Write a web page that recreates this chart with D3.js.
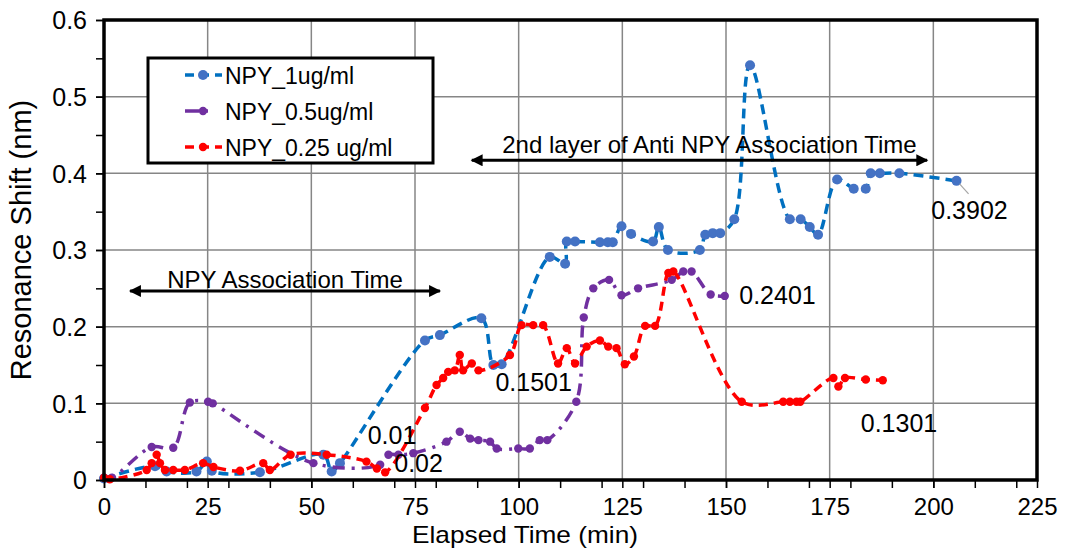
<!DOCTYPE html>
<html>
<head>
<meta charset="utf-8">
<script src="https://cdn.jsdelivr.net/npm/d3@7"></script>
<style>
  body { margin: 0; background: #fff; }
  text { font-family: "Liberation Sans", Arial, sans-serif; fill: #000; }
</style>
</head>
<body>
<svg id="chart" width="1065" height="548"></svg>
<script>
// ---- Data: elapsed time (min) and resonance shift (nm) for each concentration ----
const seriesNames = ["NPY_1ug/ml", "NPY_0.5ug/ml", "NPY_0.25 ug/ml"];

const blueTime = [0, 12.3, 15.1, 22.3, 24.8, 26.0, 37.6, 52.9, 54.9, 56.9, 77.4, 81.0, 91.0, 93.9, 95.9,
  107.5, 111.2, 111.6, 113.6, 119.6, 121.5, 122.7, 124.8, 127.1, 132.4, 133.8, 136.0, 143.7, 145.0,
  146.8, 148.6, 152.0, 155.8, 165.4, 168.0, 170.2, 172.2, 176.8, 180.8, 183.7, 184.9, 187.1, 191.8, 205.6];
const blueShift = [0.002, 0.018, 0.011, 0.011, 0.024, 0.012, 0.010, 0.033, 0.011, 0.022, 0.182, 0.189, 0.211, 0.1501, 0.151,
  0.291, 0.282, 0.311, 0.311, 0.310, 0.310, 0.310, 0.331, 0.321, 0.311, 0.330, 0.300, 0.300, 0.320,
  0.322, 0.322, 0.340, 0.541, 0.340, 0.340, 0.330, 0.320, 0.392, 0.380, 0.380, 0.400, 0.400, 0.400, 0.3902];

const purpleTime = [0, 1.9, 11.5, 16.7, 20.7, 25.1, 26.2, 50.5, 66.6, 68.6, 71.0, 74.6, 82.6, 85.8, 88.3,
  90.3, 93.1, 94.7, 99.9, 102.7, 105.1, 106.9, 113.9, 115.7, 118.0, 121.8, 124.8, 128.8, 136.9, 139.7,
  141.7, 146.3, 149.7];
const purpleShift = [0.003, 0.003, 0.043, 0.042, 0.101, 0.102, 0.100, 0.022, 0.02, 0.033, 0.033, 0.035, 0.050, 0.063, 0.054,
  0.052, 0.050, 0.041, 0.041, 0.041, 0.052, 0.052, 0.102, 0.212, 0.250, 0.261, 0.241, 0.250, 0.261, 0.272,
  0.272, 0.242, 0.2401];

const redTime = [0, 1.4, 10.3, 11.5, 12.7, 13.5, 14.7, 16.7, 19.5, 23.9, 26.4, 32.8, 38.4, 40.0, 45.0,
  53.7, 63.3, 65.8, 67.8, 77.4, 80.2, 81.8, 83.0, 84.6, 85.8, 86.6, 88.7, 90.3, 97.9, 100.7,
  103.5, 105.9, 109.5, 111.6, 113.6, 116.4, 119.6, 121.6, 123.6, 125.6, 127.8, 130.5, 132.9, 136.1, 137.3,
  153.8, 163.8, 165.4, 167.0, 167.9, 175.9, 177.1, 178.7, 183.7, 187.8];
const redShift = [0.003, 0.001, 0.013, 0.022, 0.033, 0.022, 0.013, 0.013, 0.013, 0.022, 0.017, 0.012, 0.022, 0.013, 0.033,
  0.033, 0.024, 0.015, 0.01, 0.094, 0.124, 0.133, 0.141, 0.143, 0.163, 0.143, 0.152, 0.143, 0.163, 0.202,
  0.202, 0.202, 0.152, 0.172, 0.152, 0.174, 0.182, 0.174, 0.172, 0.151, 0.161, 0.201, 0.201, 0.270, 0.272,
  0.102, 0.102, 0.102, 0.102, 0.102, 0.133, 0.122, 0.133, 0.131, 0.1301];

// Value labels: [time, shift] anchor points the text refers to
const labelText = ["0.3902", "0.2401", "0.1501", "0.1301", "0.01", "0.02"];
const labelTime = [199.5, 153.2, 94.4, 182.5, 63.6, 70.0];
const labelShift = [0.340, 0.229, 0.116, 0.063, 0.047, 0.010];

const xTicks = [0, 25, 50, 75, 100, 125, 150, 175, 200, 225];
const yTicks = [0, 0.1, 0.2, 0.3, 0.4, 0.5, 0.6];

// Time-window annotations (double arrows)
const spanText = ["NPY Association Time", "2nd layer of Anti NPY Association Time"];
const spanStart = [6.3, 88.7];
const spanEnd = [81.0, 198.5];
const spanLevel = [0.2465, 0.417];
const spanTextLevel = [0.261, 0.437];

// ---- Layout ----
const svg = d3.select("#chart");
const x = d3.scaleLinear().domain([0, 225]).range([104, 1037]);
const y = d3.scaleLinear().domain([0, 0.6]).range([480, 20]);

const styles = [
  { line: "#0070C0", marker: "#4472C4", dash: "10,6", r: 5 },
  { line: "#7030A0", marker: "#7030A0", dash: "12,7,3,7", r: 4.2 },
  { line: "#FF0000", marker: "#FF0000", dash: "9,6", r: 4.2 }
];
const series = [
  blueTime.map((t, i) => [t, blueShift[i]]),
  purpleTime.map((t, i) => [t, purpleShift[i]]),
  redTime.map((t, i) => [t, redShift[i]])
];

// Gridlines
const grid = svg.append("g").attr("stroke", "#868686").attr("stroke-width", 1.5);
grid.selectAll("line.v").data(xTicks.slice(1, -1)).enter().append("line")
  .attr("x1", d => x(d)).attr("x2", d => x(d)).attr("y1", y(0)).attr("y2", y(0.6));
grid.selectAll("line.h").data(yTicks.slice(1, -1)).enter().append("line")
  .attr("y1", d => y(d)).attr("y2", d => y(d)).attr("x1", x(0)).attr("x2", x(225));

// Series lines
const line = d3.line().x(d => x(d[0])).y(d => y(d[1])).curve(d3.curveCatmullRom.alpha(0.5));
series.forEach((s, i) => {
  const st = styles[i];
  const g = svg.append("g");
  g.append("path").datum(s).attr("d", line).attr("fill", "none")
    .attr("stroke", st.line).attr("stroke-width", 3.5).attr("stroke-dasharray", st.dash);
  g.selectAll("circle").data(s).enter().append("circle")
    .attr("cx", d => x(d[0])).attr("cy", d => y(d[1])).attr("r", st.r).attr("fill", st.marker);
});

// Axes
const xAxis = d3.axisBottom(x).tickValues(d3.range(0, 226, 10)).tickSize(8).tickFormat("");
svg.append("g").attr("transform", `translate(0,${y(0)})`).call(xAxis)
  .call(g => g.selectAll(".tick line").attr("stroke", "#000").attr("stroke-width", 1.5))
  .call(g => g.select(".domain").remove());
const xAxisMajor = d3.axisBottom(x).tickValues(xTicks).tickSize(8).tickFormat(d => d);
svg.append("g").attr("transform", `translate(0,${y(0)})`).call(xAxisMajor)
  .call(g => g.selectAll(".tick line").attr("stroke", "#000").attr("stroke-width", 1.5))
  .call(g => g.selectAll(".tick text").attr("font-size", 24).attr("dy", 0).attr("y", 35)
    .attr("font-family", "'Liberation Sans', Arial, sans-serif"))
  .call(g => g.select(".domain").remove());

const yAxis = d3.axisLeft(y).tickValues(d3.range(0, 0.601, 0.05)).tickSize(8).tickFormat("");
svg.append("g").attr("transform", `translate(${x(0)},0)`).call(yAxis)
  .call(g => g.selectAll(".tick line").attr("stroke", "#000").attr("stroke-width", 1.5))
  .call(g => g.select(".domain").remove());
const yAxisMajor = d3.axisLeft(y).tickValues(yTicks).tickSize(8).tickFormat(d => d3.format("~g")(d));
svg.append("g").attr("transform", `translate(${x(0)},0)`).call(yAxisMajor)
  .call(g => g.selectAll(".tick line").attr("stroke", "#000").attr("stroke-width", 1.5))
  .call(g => g.selectAll(".tick text").attr("font-size", 25).attr("x", -17).attr("dy", "0.35em")
    .attr("font-family", "'Liberation Sans', Arial, sans-serif"))
  .call(g => g.select(".domain").remove());

// Plot frame
svg.append("rect").attr("x", x(0)).attr("y", y(0.6)).attr("width", x(225) - x(0)).attr("height", y(0) - y(0.6))
  .attr("fill", "none").attr("stroke", "#000").attr("stroke-width", 3.5);

// Axis titles
svg.append("text").attr("x", 525).attr("y", 542.5).attr("text-anchor", "middle")
  .attr("font-size", 24).attr("textLength", 226).attr("lengthAdjust", "spacingAndGlyphs")
  .text("Elapsed Time (min)");
svg.append("text").attr("transform", "translate(31,240) rotate(-90)").attr("text-anchor", "middle")
  .attr("font-size", 29).text("Resonance Shift (nm)");

// Double-headed arrows marking the association windows
const defs = svg.append("defs");
defs.append("marker").attr("id", "head").attr("viewBox", "0 0 10 10").attr("refX", 9).attr("refY", 5)
  .attr("markerWidth", 4.5).attr("markerHeight", 4).attr("orient", "auto-start-reverse")
  .attr("markerUnits", "strokeWidth")
  .append("path").attr("d", "M0,0 L10,5 L0,10 Z").attr("fill", "#000");
spanText.forEach((t, i) => {
  svg.append("line").attr("x1", x(spanStart[i])).attr("x2", x(spanEnd[i]))
    .attr("y1", y(spanLevel[i])).attr("y2", y(spanLevel[i]))
    .attr("stroke", "#000").attr("stroke-width", 3)
    .attr("marker-start", "url(#head)").attr("marker-end", "url(#head)");
  svg.append("text").attr("x", (x(spanStart[i]) + x(spanEnd[i])) / 2 + (i === 1 ? 10 : 0))
    .attr("y", y(spanTextLevel[i]) + 8).attr("text-anchor", "middle").attr("font-size", 24).text(t);
});

// Value labels
svg.append("line").attr("x1", x(205.6) + 3).attr("y1", y(0.3902) + 3).attr("x2", x(208.5)).attr("y2", y(0.3902) + 13)
  .attr("stroke", "#a6a6a6").attr("stroke-width", 1.2);
labelText.forEach((t, i) => {
  svg.append("text").attr("x", x(labelTime[i])).attr("y", y(labelShift[i]))
    .attr("font-size", 25).text(t);
});

// Legend
const legend = svg.append("g");
legend.append("rect").attr("x", 148).attr("y", 58).attr("width", 285).attr("height", 105)
  .attr("fill", "#fff").attr("stroke", "#000").attr("stroke-width", 3);
seriesNames.forEach((n, i) => {
  const ly = 75 + i * 36;
  const st = styles[i];
  legend.append("line").attr("x1", 185).attr("x2", 222).attr("y1", ly).attr("y2", ly)
    .attr("stroke", st.line).attr("stroke-width", 3.5).attr("stroke-dasharray", i === 1 ? "14,6,3,30" : "9,6");
  legend.append("circle").attr("cx", 203).attr("cy", ly).attr("r", st.r).attr("fill", st.marker);
  legend.append("text").attr("x", 225).attr("y", ly + 8.5).attr("font-size", 23).text(n);
});
</script>
</body>
</html>
